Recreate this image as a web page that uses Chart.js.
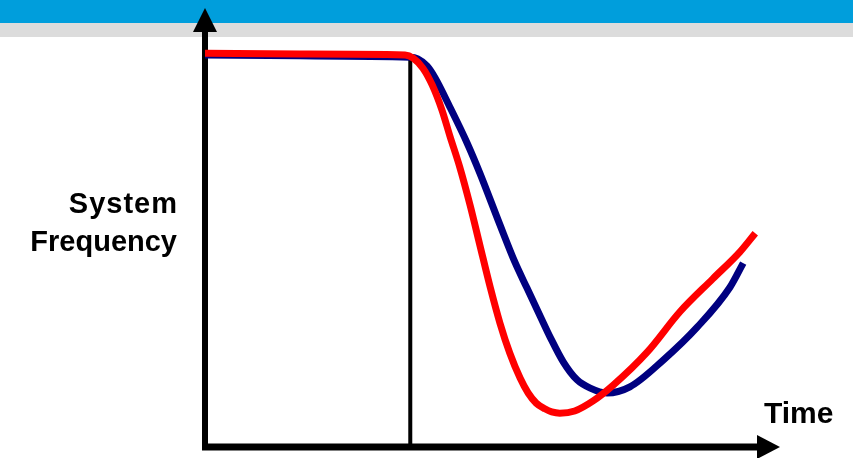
<!DOCTYPE html>
<html>
<head>
<meta charset="utf-8">
<script src="https://cdn.jsdelivr.net/npm/chart.js@4.4.1/dist/chart.umd.min.js"></script>
<style>
  html, body { margin: 0; padding: 0; background: #fff; }
  #wrap { position: relative; width: 853px; height: 458px; overflow: hidden; }
  .bar-blue { position: absolute; left: 0; top: 0; width: 853px; height: 23px; background: #009edc; }
  .bar-gray { position: absolute; left: 0; top: 23px; width: 853px; height: 14px; background: #dcdcdc; }
  #freqChart { position: absolute; left: 0; top: 0; }
  .lbl { position: absolute; font-family: "Liberation Sans", Arial, sans-serif; font-weight: bold; color: #000; white-space: nowrap; }
  #ylbl1 { right: 676px; top: 186px; font-size: 29px; line-height: 34px; letter-spacing: 1px; margin-right: -1px; text-align: right; }
  #ylbl2 { right: 676px; top: 224px; font-size: 29px; line-height: 34px; text-align: right; }
  #xlbl { left: 764px; top: 398px; font-size: 30px; line-height: 30px; }
</style>
</head>
<body>
<div id="wrap">
  <div class="bar-blue"></div>
  <div class="bar-gray"></div>
  <canvas id="freqChart" width="853" height="458"></canvas>
  <div class="lbl" id="ylbl1">System</div>
  <div class="lbl" id="ylbl2">Frequency</div>
  <div class="lbl" id="xlbl">Time</div>
</div>
<script>
// time axis 0..100, frequency axis 0..100 (arbitrary units)
const redTime = [0, 16.5, 34.8, 36.2, 37.9, 39.5, 41.2, 42.6, 44.3, 46.1, 47.8, 49.6, 51.3, 53.0, 54.8, 56.2, 57.6, 59.1, 60.3, 61.7, 64.3, 67.5, 71.0, 76.9, 82.6, 88.3, 93.0, 95.7];
const redFreq = [89.7, 89.5, 89.3, 88.6, 86.3, 82.5, 76.8, 70.8, 63.8, 55.1, 46.0, 36.4, 28.2, 21.4, 15.7, 12.3, 10.0, 8.7, 8.0, 7.7, 8.2, 10.5, 14.1, 21.6, 30.8, 38.3, 44.4, 48.7];

const blueTime = [0, 16.5, 35.7, 37.0, 38.6, 40.0, 42.6, 45.6, 47.8, 51.3, 53.9, 56.0, 58.3, 60.0, 62.3, 64.7, 67.0, 69.9, 73.9, 79.7, 85.6, 91.3, 93.6];
const blueFreq = [89.3, 89.1, 88.8, 88.4, 86.8, 84.1, 77.4, 69.2, 62.4, 50.6, 42.1, 36.2, 29.8, 25.1, 19.4, 15.3, 13.4, 12.3, 13.7, 19.8, 27.3, 36.4, 41.9];

const eventTime = [35.7, 35.7];
const eventFreq = [89.3, 0];

const toPoints = (xs, ys) => xs.map((x, i) => ({ x: x, y: ys[i] }));

// axes with arrow heads, drawn under the curves
const axesPlugin = {
  id: "axesArrows",
  beforeDatasetsDraw(chart) {
    const { ctx, scales } = chart;
    const x0 = scales.x.getPixelForValue(0);
    const x1 = scales.x.getPixelForValue(100);
    const y0 = scales.y.getPixelForValue(0);
    const y1 = scales.y.getPixelForValue(100);
    ctx.save();
    ctx.strokeStyle = "#000";
    ctx.fillStyle = "#000";
    ctx.lineWidth = 6;
    ctx.beginPath();
    ctx.moveTo(x0, y1 + 20);
    ctx.lineTo(x0, y0 + 3);
    ctx.stroke();
    ctx.lineWidth = 7;
    ctx.beginPath();
    ctx.moveTo(x0 - 3, y0);
    ctx.lineTo(x1 - 20, y0);
    ctx.stroke();
    // y arrow
    ctx.beginPath();
    ctx.moveTo(x0, y1);
    ctx.lineTo(x0 - 12, y1 + 24);
    ctx.lineTo(x0 + 12, y1 + 24);
    ctx.closePath();
    ctx.fill();
    // x arrow
    ctx.beginPath();
    ctx.moveTo(x1, y0);
    ctx.lineTo(x1 - 23, y0 - 12);
    ctx.lineTo(x1 - 23, y0 + 12);
    ctx.closePath();
    ctx.fill();
    ctx.restore();
  },
};

new Chart(document.getElementById("freqChart"), {
  type: "line",
  data: {
    datasets: [
      {
        label: "Red",
        data: toPoints(redTime, redFreq),
        borderColor: "#ff0000",
        borderWidth: 7,
        cubicInterpolationMode: "monotone",
        pointRadius: 0,
        fill: false,
      },
      {
        label: "Blue",
        data: toPoints(blueTime, blueFreq),
        borderColor: "#000080",
        borderWidth: 7,
        cubicInterpolationMode: "monotone",
        pointRadius: 0,
        fill: false,
      },
      {
        label: "Event",
        data: toPoints(eventTime, eventFreq),
        borderColor: "#000",
        borderWidth: 4,
        tension: 0,
        pointRadius: 0,
        fill: false,
      },
    ],
  },
  options: {
    responsive: false,
    animation: false,
    layout: {
      padding: { left: 205, right: 73, top: 8, bottom: 11 },
    },
    plugins: {
      legend: { display: false },
      tooltip: { enabled: false },
    },
    scales: {
      x: { type: "linear", min: 0, max: 100, display: false },
      y: { type: "linear", min: 0, max: 100, display: false },
    },
  },
  plugins: [axesPlugin],
});
</script>
</body>
</html>
